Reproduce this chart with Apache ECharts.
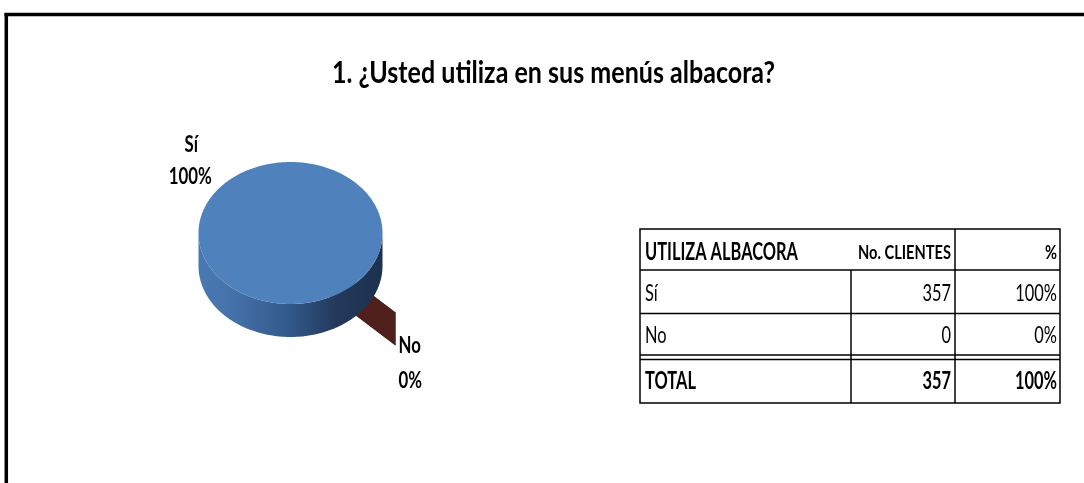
<!DOCTYPE html>
<html>
<head>
<meta charset="utf-8">
<script src="https://cdn.jsdelivr.net/npm/echarts@6/dist/echarts.min.js"></script>
<style>
  html, body { margin: 0; padding: 0; background: #fff; }
  #chart { width: 1084px; height: 483px; }
</style>
</head>
<body>
<div id="chart"></div>
<script>
// ---------------- data ----------------
const titleText = '1. ¿Usted utiliza en sus menús albacora?';
const categories = ['Sí', 'No'];
const clientes = [357, 0];
const tableHeaders = ['UTILIZA ALBACORA', 'No. CLIENTES', '%'];
const totalLabel = 'TOTAL';

// derived values
const total = clientes.reduce((a, b) => a + b, 0);
const pctLabels = clientes.map(v => Math.round(v / total * 100) + '%');
const totalPct = Math.round(total / total * 100) + '%';

// ---------------- layout / style ----------------
const FONT = 'Lato, "Open Sans", "DejaVu Sans", sans-serif';
const PIE = { cx: 290.5, cy: 233, rx: 92, ry: 71, depth: 33, startDeg: 44.5 };
const explodeBy = [0, 0.6];
const sliceColors = ['#4F81BD', '#4E1F1B'];
const sideGradients = [
  [[0, '#4a79b2'], [0.2, '#4471a8'], [0.5, '#33588a'], [0.75, '#22395b'], [1, '#1d3150']],
  [[0, '#4E1F1B'], [1, '#4E1F1B']]
];

const mctx = document.createElement('canvas').getContext('2d');
function measure(text, weight, size) {
  mctx.font = weight + ' ' + size + 'px ' + FONT;
  return mctx.measureText(text).width;
}
const titleScale = 443 / measure(titleText, 'bold', 30);
const labelScale = 43 / measure('100%', 'bold', 22);
const tableScale = 153 / measure(tableHeaders[0], 'bold', 24);
const subHeaderScale = 93 / measure(tableHeaders[1], 'bold', 19);

function ell(r, deg, off) {
  const a = deg * Math.PI / 180;
  return [PIE.cx + PIE.rx * r * Math.cos(a) + off[0], PIE.cy + PIE.ry * r * Math.sin(a) + off[1]];
}

function renderSlice(params, api) {
  const i = params.dataIndex;
  const v = api.value(0);
  let before = 0;
  for (let k = 0; k < i; k++) before += clientes[k];
  const a0 = PIE.startDeg + before / total * 360;
  const span = v / total * 360;
  const mid = a0 + span / 2;
  const e = explodeBy[i];
  const ma = mid * Math.PI / 180;
  const off = [PIE.rx * e * Math.cos(ma), PIE.ry * e * Math.sin(ma)];
  const color = sliceColors[i];
  const zBase = e > 0 ? 0 : 10;
  const D = PIE.depth;
  const children = [];

  // radial walls
  [a0, a0 + span].forEach(b => {
    const c = ell(0, b, off), r = ell(1, b, off);
    children.push({
      type: 'polygon', z2: zBase + 1,
      shape: { points: [c, r, [r[0], r[1] + D], [c[0], c[1] + D]] },
      style: { fill: sideGradients[i][0][1] }
    });
  });

  // outer (front) wall pieces
  if (span > 0) {
    const pieces = [];
    let cur = null;
    const steps = Math.max(2, Math.ceil(span));
    for (let s = 0; s <= steps; s++) {
      const t = a0 + span * s / steps;
      const norm = ((t % 360) + 360) % 360;
      if (norm <= 180) {
        if (!cur) { cur = []; pieces.push(cur); }
        cur.push(t);
      } else cur = null;
    }
    pieces.forEach(p => {
      if (p.length < 2) return;
      const top = p.map(t => ell(1, t, off));
      const bot = p.slice().reverse().map(t => { const q = ell(1, t, off); return [q[0], q[1] + D]; });
      children.push({
        type: 'polygon', z2: zBase + 2,
        shape: { points: top.concat(bot) },
        style: {
          fill: {
            type: 'linear', global: true,
            x: PIE.cx - PIE.rx + off[0], y: 0, x2: PIE.cx + PIE.rx + off[0], y2: 0,
            colorStops: sideGradients[i].map(s => ({ offset: s[0], color: s[1] }))
          }
        }
      });
    });

    // top face
    const pts = [];
    if (span < 360) pts.push(ell(0, a0, off));
    for (let s = 0; s <= steps; s++) pts.push(ell(1, a0 + span * s / steps, off));
    children.push({
      type: 'polygon', z2: zBase + 3,
      shape: { points: pts },
      style: { fill: color }
    });
  }

  // labels
  const lblStyle = (txt, align) => ({
    text: txt, fontFamily: FONT, fontWeight: 'bold', fontSize: 22,
    fill: '#000', align: align, verticalAlign: 'middle'
  });
  if (e > 0) {
    const r = ell(1, a0, off);
    const ax = r[0] + 3, ay = r[1] + D;
    children.push({ type: 'text', z2: 30, x: ax, y: ay, scaleX: labelScale, style: lblStyle(categories[i], 'left') });
    children.push({ type: 'text', z2: 30, x: ax, y: ay + 35, scaleX: labelScale, style: lblStyle(pctLabels[i], 'left') });
  } else {
    const p = ell(1.45, mid, off);
    const ax = p[0] - 5, ay = p[1];
    children.push({ type: 'text', z2: 30, x: ax + 1, y: ay - 16, scaleX: labelScale, style: lblStyle(categories[i], 'center') });
    children.push({ type: 'text', z2: 30, x: ax, y: ay + 16, scaleX: labelScale, style: lblStyle(pctLabels[i], 'center') });
  }

  return { type: 'group', children: children };
}

// ---------------- table & frame graphics ----------------
const T = { x0: 640, x1: 851, x2: 955, x3: 1060, y0: 229, y1: 270, y2: 313.5, y3a: 355, y3b: 359.5, y4: 403 };
const lineStyle = { stroke: '#000', lineWidth: 1.5 };
function hline(x1, x2, y) { return { type: 'line', shape: { x1: x1, y1: y, x2: x2, y2: y }, style: lineStyle }; }
function vline(x, y1, y2) { return { type: 'line', shape: { x1: x, y1: y1, x2: x, y2: y2 }, style: lineStyle }; }
function ttext(txt, x, y, align, bold, size, sc) {
  return {
    type: 'text', x: x, y: y, scaleX: sc || tableScale,
    style: { text: txt, fontFamily: FONT, fontWeight: bold ? 'bold' : 'normal', fontSize: size || 24, fill: '#000', align: align, verticalAlign: 'middle' }
  };
}
const rowY = [293, 335];
const tableGraphics = [
  { type: 'rect', shape: { x: T.x0, y: T.y0, width: T.x3 - T.x0, height: T.y4 - T.y0 }, style: { fill: 'none', stroke: '#000', lineWidth: 1.5 } },
  hline(T.x0, T.x3, T.y1), hline(T.x0, T.x3, T.y2), hline(T.x0, T.x3, T.y3a), hline(T.x0, T.x3, T.y3b),
  vline(T.x1, T.y1, T.y4), vline(T.x2, T.y0, T.y4),
  ttext(tableHeaders[0], T.x0 + 5, 252, 'left', true),
  ttext(tableHeaders[1], T.x2 - 4, 253, 'right', true, 19, subHeaderScale),
  ttext(tableHeaders[2], T.x3 - 3, 253, 'right', true, 19, subHeaderScale)
];
categories.forEach((c, i) => {
  tableGraphics.push(ttext(c, T.x0 + 5, rowY[i], 'left', false));
  tableGraphics.push(ttext(String(clientes[i]), T.x2 - 4, rowY[i], 'right', false));
  tableGraphics.push(ttext(pctLabels[i], T.x3 - 3, rowY[i], 'right', false));
});
tableGraphics.push(ttext(totalLabel, T.x0 + 5, 381, 'left', true));
tableGraphics.push(ttext(String(total), T.x2 - 4, 381, 'right', true));
tableGraphics.push(ttext(totalPct, T.x3 - 3, 381, 'right', true));

const frameGraphics = [
  { type: 'line', shape: { x1: 4.5, y1: 14.5, x2: 1084, y2: 14.5 }, style: { stroke: '#000', lineWidth: 3.5 } },
  { type: 'line', shape: { x1: 6.3, y1: 13, x2: 6.3, y2: 483 }, style: { stroke: '#000', lineWidth: 3.5 } }
];

const titleGraphic = {
  type: 'text', x: 332, y: 73.5, scaleX: titleScale,
  style: { text: titleText, fontFamily: FONT, fontWeight: 'bold', fontSize: 30, fill: '#000', align: 'left', verticalAlign: 'middle' }
};

const chart = echarts.init(document.getElementById('chart'), null, { renderer: 'canvas' });
chart.setOption({
  backgroundColor: '#fff',
  animation: false,
  graphic: frameGraphics.concat([titleGraphic]).concat(tableGraphics),
  series: [{
    type: 'custom',
    coordinateSystem: 'none',
    renderItem: renderSlice,
    data: clientes.map((v, i) => ({ name: categories[i], value: [v] }))
  }]
});
</script>
</body>
</html>
